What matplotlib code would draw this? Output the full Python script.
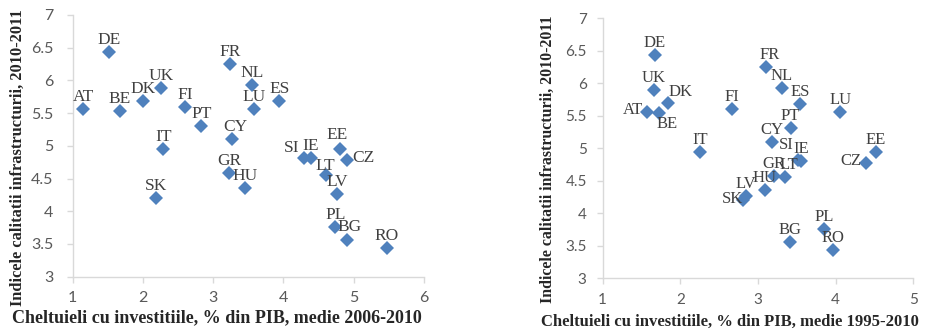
import matplotlib
matplotlib.use("Agg")
import matplotlib.pyplot as plt

countries = ["AT", "BE", "BG", "CY", "CZ", "DE", "DK", "EE", "ES", "FI", "FR", "GR", "HU",
             "IE", "IT", "LT", "LU", "LV", "NL", "PL", "PT", "RO", "SI", "SK", "UK"]
# Indicele calitatii infrastructurii, 2010-2011
infra_quality = [5.56, 5.54, 3.56, 5.10, 4.78, 6.43, 5.69, 4.95, 5.68, 5.60, 6.25, 4.58, 4.36,
                 4.81, 4.95, 4.56, 5.56, 4.27, 5.93, 3.76, 5.31, 3.44, 4.82, 4.20, 5.89]
# Cheltuieli cu investitiile, % din PIB, medie 2006-2010
invest_2006_2010 = [1.15, 1.67, 4.90, 3.27, 4.90, 1.52, 2.00, 4.81, 3.94, 2.60, 3.24, 3.23, 3.45,
                    4.39, 2.29, 4.61, 3.58, 4.76, 3.55, 4.74, 2.83, 5.47, 4.29, 2.18, 2.26]
# Cheltuieli cu investitiile, % din PIB, medie 1995-2010
invest_1995_2010 = [1.57, 1.72, 3.41, 3.18, 4.39, 1.67, 1.84, 4.52, 3.54, 2.67, 3.10, 3.20, 3.09,
                    3.56, 2.25, 3.35, 4.06, 2.84, 3.31, 3.85, 3.42, 3.97, 3.52, 2.81, 1.66]

xlabel_left = "Cheltuieli cu investitiile, % din PIB, medie 2006-2010"
xlabel_right = "Cheltuieli cu investitiile, % din PIB, medie 1995-2010"
ylabel = "Indicele calitatii infrastructurii, 2010-2011"

# label offsets in pixels (dx, dy) relative to marker; default above
offsets_left = {"SI": (-12, 10), "CZ": (17, 2), "LT": (-1, 9), "EE": (-3, 14), "BG": (3, 13),
                "CY": (3, 12)}
offsets_right = {"DK": (13, 11), "AT": (-14, 2), "BE": (8, -11), "SI": (-12, 15), "SK": (-11, 1),
                 "CZ": (-15, 2), "LT": (4, 12), "FR": (4, 12)}

BLUE = "#4F81BD"
SPINE = "#D9D9D9"
TICK = "#595959"
LABEL = "#404040"
DPI = 100

fig = plt.figure(figsize=(928 / DPI, 331 / DPI), dpi=DPI)
ax1 = fig.add_axes([72.7 / 928, 1 - 276.7 / 331, (424 - 72.7) / 928, (276.7 - 15) / 331])
ax2 = fig.add_axes([602.7 / 928, 1 - 278.3 / 331, (913.3 - 602.7) / 928, (278.3 - 18.3) / 331])


def style(ax, xmax, xlabel, xl_size, yl_size, xl_pos, yl_pos, ypad, tsize):
    ax.set_xlim(1, xmax)
    ax.set_ylim(3, 7)
    ax.set_xticks(range(1, xmax + 1))
    ax.set_yticks([3, 3.5, 4, 4.5, 5, 5.5, 6, 6.5, 7])
    ax.set_yticklabels(["3", "3.5", "4", "4.5", "5", "5.5", "6", "6.5", "7"])
    for s in ["top", "right"]:
        ax.spines[s].set_visible(False)
    for s in ["left", "bottom"]:
        ax.spines[s].set_color(SPINE)
        ax.spines[s].set_linewidth(1.0)
    ax.tick_params(axis="both", direction="out", length=4, width=1, color=SPINE,
                   labelcolor=TICK, labelsize=tsize)
    ax.tick_params(axis="x", pad=6.5)
    ax.tick_params(axis="y", pad=ypad)
    for lbl in ax.get_xticklabels() + ax.get_yticklabels():
        lbl.set_family("Lato")
    ax.set_xlabel(xlabel, fontsize=xl_size, fontweight="bold", family="Liberation Serif",
                  color="#262626", va="center")
    ax.set_ylabel(ylabel, fontsize=yl_size, fontweight="bold", family="Liberation Serif",
                  color="#262626", va="center")
    ax.xaxis.set_label_coords(*xl_pos)
    ax.yaxis.set_label_coords(*yl_pos)


def draw(ax, xs, offsets, lsize):
    ax.plot(xs, infra_quality, linestyle="none", marker="D", markersize=7.0,
            color=BLUE, markeredgewidth=0, clip_on=False, zorder=3)
    for c, x, y in zip(countries, xs, infra_quality):
        dx, dy = offsets.get(c, (0, 12))
        ax.annotate(c, (x, y), xytext=(dx * 72 / DPI, dy * 72 / DPI), textcoords="offset points",
                    ha="center", va="center", fontsize=lsize, family="Liberation Serif",
                    color=LABEL, zorder=4)


style(ax1, 6, xlabel_left, 13.0, 11.8, (0.411, -0.158), (-0.156, 0.454), 10, 11.5)
style(ax2, 5, xlabel_right, 12.0, 11.4, (0.411, -0.167), (-0.176, 0.459), 7.5, 11.0)
draw(ax1, invest_2006_2010, offsets_left, 12.5)
draw(ax2, invest_1995_2010, offsets_right, 12.0)

fig.savefig("out.png", dpi=DPI)
